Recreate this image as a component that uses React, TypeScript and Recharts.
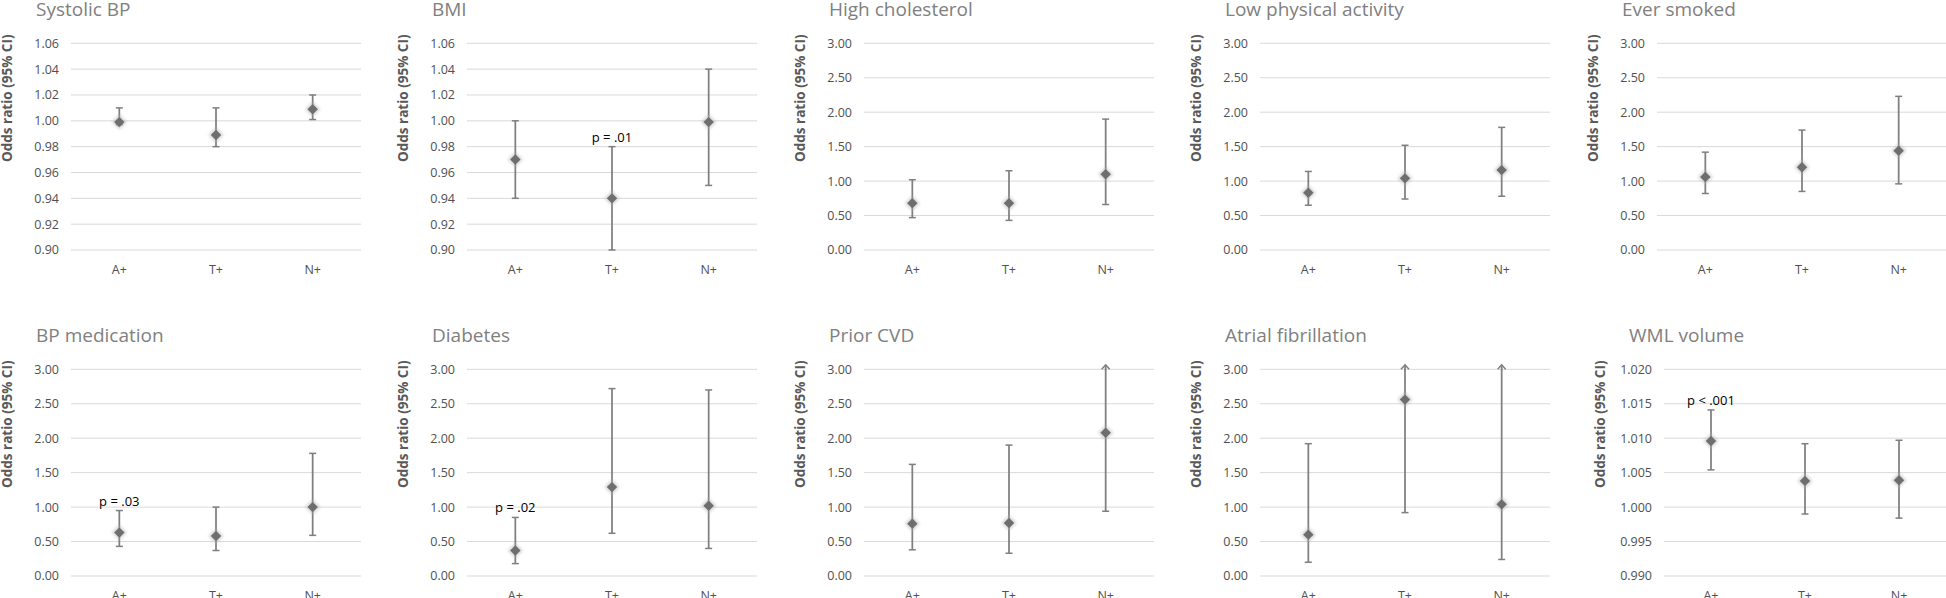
import React from 'react';
import { ComposedChart, Scatter, XAxis, YAxis, CartesianGrid, ErrorBar } from 'recharts';

// ---------- data ----------
const CATS = ['A+', 'T+', 'N+'];
const CAT_IDX = [0, 1, 2];

const TICKS_SMALL = [0.9, 0.92, 0.94, 0.96, 0.98, 1.0, 1.02, 1.04, 1.06];
const TICKS_OR = [0, 0.5, 1.0, 1.5, 2.0, 2.5, 3.0];
const TICKS_WML = [0.99, 0.995, 1.0, 1.005, 1.01, 1.015, 1.02];

const TITLES = [
  'Systolic BP', 'BMI', 'High cholesterol', 'Low physical activity', 'Ever smoked',
  'BP medication', 'Diabetes', 'Prior CVD', 'Atrial fibrillation', 'WML volume',
];

// odds ratios, lower and upper CI (null upper = beyond axis, drawn as arrow)
const SBP_OR = [0.999, 0.989, 1.009];
const SBP_LO = [0.997, 0.98, 1.001];
const SBP_HI = [1.01, 1.01, 1.02];
const SBP_P = [null, null, null];

const BMI_OR = [0.97, 0.94, 0.999];
const BMI_LO = [0.94, 0.9, 0.95];
const BMI_HI = [1.0, 0.98, 1.04];
const BMI_P = [null, 'p = .01', null];

const CHOL_OR = [0.68, 0.68, 1.1];
const CHOL_LO = [0.47, 0.43, 0.66];
const CHOL_HI = [1.02, 1.15, 1.9];
const CHOL_P = [null, null, null];

const LPA_OR = [0.83, 1.04, 1.16];
const LPA_LO = [0.65, 0.74, 0.78];
const LPA_HI = [1.14, 1.52, 1.78];
const LPA_P = [null, null, null];

const SMK_OR = [1.06, 1.2, 1.44];
const SMK_LO = [0.82, 0.85, 0.96];
const SMK_HI = [1.42, 1.74, 2.23];
const SMK_P = [null, null, null];

const BPM_OR = [0.63, 0.58, 1.0];
const BPM_LO = [0.43, 0.37, 0.59];
const BPM_HI = [0.95, 1.0, 1.78];
const BPM_P = ['p = .03', null, null];

const DIA_OR = [0.37, 1.29, 1.02];
const DIA_LO = [0.18, 0.62, 0.4];
const DIA_HI = [0.85, 2.72, 2.7];
const DIA_P = ['p = .02', null, null];

const CVD_OR = [0.76, 0.77, 2.08];
const CVD_LO = [0.38, 0.33, 0.94];
const CVD_HI = [1.62, 1.9, null];
const CVD_P = [null, null, null];

const AF_OR = [0.6, 2.56, 1.04];
const AF_LO = [0.2, 0.92, 0.24];
const AF_HI = [1.92, null, null];
const AF_P = [null, null, null];

const WML_OR = [1.0096, 1.0038, 1.0039];
const WML_LO = [1.0054, 0.999, 0.9984];
const WML_HI = [1.0141, 1.0092, 1.0097];
const WML_P = ['p < .001', null, null];

// ---------- styling / layout ----------
const GRAY = '#7f7f7f';
const AX = 80;
const CHART_H = 300;

const Marker = (props: any) => {
  const { cx, cy } = props;
  if (cx == null || cy == null) return <g />;
  const s = 5.2;
  const d = `M${cx},${cy - s} L${cx + s},${cy} L${cx},${cy + s} L${cx - s},${cy} Z`;
  const h = 7.5;
  const dh = `M${cx},${cy - h} L${cx + h},${cy} L${cx},${cy + h} L${cx - h},${cy} Z`;
  return (
    <g>
      <defs>
        <filter id="mglow" x="-1" y="-1" width="3" height="3">
          <feGaussianBlur stdDeviation="1.5" />
        </filter>
        <filter id="mcore" x="-1" y="-1" width="3" height="3">
          <feGaussianBlur stdDeviation="0.6" />
        </filter>
      </defs>
      <path d={dh} fill="#b0b0b0" opacity={0.55} filter="url(#mglow)" />
      <path d={d} fill="#6e6e6e" filter="url(#mcore)" />
    </g>
  );
};

const LowCap = (props: any) => {
  const { cx, cy } = props;
  if (cx == null || cy == null) return <g />;
  return <line x1={cx - 3.5} x2={cx + 3.5} y1={cy} y2={cy} stroke={GRAY} strokeWidth={1.5} />;
};

const HighCap = (props: any) => {
  const { cx, cy, payload } = props;
  if (cx == null || cy == null) return <g />;
  const top = payload.trunc ? cy - 4.5 : cy;
  return (
    <g>
      {payload.trunc ? (
        <g>
          <line x1={cx} x2={cx} y1={cy + 1} y2={top} stroke={GRAY} strokeWidth={1.75} />
          <polyline
            points={`${cx - 4},${top + 4.5} ${cx},${top} ${cx + 4},${top + 4.5}`}
            fill="none"
            stroke={GRAY}
            strokeWidth={1.5}
          />
        </g>
      ) : (
        <line x1={cx - 3.5} x2={cx + 3.5} y1={cy} y2={cy} stroke={GRAY} strokeWidth={1.5} />
      )}
      {payload.p ? (
        <text x={cx} y={top - 5} textAnchor="middle" fontSize={13} fill="#000">
          {payload.p}
        </text>
      ) : null}
    </g>
  );
};

type PanelProps = {
  title: string;
  or: number[];
  lo: number[];
  hi: (number | null)[];
  pv: (string | null)[];
  ticks: number[];
  decimals: number;
  plotLeft: number;
  rowTop: number;
  plotWidth: number;
};

const Panel = ({ title, or, lo, hi, pv, ticks, decimals, plotLeft, rowTop, plotWidth }: PanelProps) => {
  const yMin = ticks[0];
  const yMax = ticks[ticks.length - 1];
  const data = CATS.map((c, i) => {
    const h = hi[i] == null ? yMax : (hi[i] as number);
    return {
      x: CAT_IDX[i],
      cat: c,
      or: or[i],
      lo: lo[i],
      hi: h,
      trunc: hi[i] == null,
      err: [or[i] - lo[i], h - or[i]],
      p: pv[i],
    };
  });
  const width = AX + plotWidth + 4;
  return (
    <div style={{ position: 'absolute', left: plotLeft - AX, top: rowTop, width, height: CHART_H }}>
      <ComposedChart
        width={width}
        height={CHART_H}
        data={data}
        margin={{ top: 43.3, right: 4, bottom: 20, left: 0 }}
      >
        <CartesianGrid vertical={false} stroke="#d9d9d9" strokeWidth={1} />
        <XAxis
          dataKey="x"
          type="number"
          domain={[-0.5, 2.5]}
          ticks={CAT_IDX}
          interval={0}
          axisLine={false}
          tickLine={false}
          height={30}
          tickMargin={9}
          tick={{ fill: '#505050', fontSize: 12.5 }}
          tickFormatter={(v: number) => CATS[v]}
        />
        <YAxis
          type="number"
          domain={[yMin, yMax]}
          ticks={ticks}
          interval={0}
          width={AX}
          axisLine={false}
          tickLine={false}
          tickMargin={6}
          tick={{ fill: '#505050', fontSize: 12.5 }}
          tickFormatter={(v: number) => v.toFixed(decimals)}
        />
        <Scatter dataKey="lo" shape={LowCap} isAnimationActive={false} />
        <Scatter dataKey="hi" shape={HighCap} isAnimationActive={false} />
        <Scatter dataKey="or" shape={Marker} isAnimationActive={false}>
          <ErrorBar dataKey="err" direction="y" width={0} stroke={GRAY} strokeWidth={1.75} isAnimationActive={false} />
        </Scatter>
        <text x={AX - 35} y={16} fontSize={19} fill="#808080">
          {title}
        </text>
        <text
          x={AX - 64}
          y={98.3}
          transform={`rotate(-90 ${AX - 64} 98.3)`}
          textAnchor="middle"
          dominantBaseline="central"
          fontSize={13.5}
          fontWeight="bold"
          fill="#595959"
        >
          Odds ratio (95% CI)
        </text>
      </ComposedChart>
    </div>
  );
};

export default function App() {
  const top = 0;
  const bot = 326;
  return (
    <div
      style={{
        position: 'absolute',
        left: 0,
        top: 0,
        width: 1946,
        height: 598,
        overflow: 'hidden',
        background: '#fff',
        fontFamily: "'Open Sans', 'Noto Sans', sans-serif",
      }}
    >
      <Panel title={TITLES[0]} or={SBP_OR} lo={SBP_LO} hi={SBP_HI} pv={SBP_P} ticks={TICKS_SMALL} decimals={2} plotLeft={71} rowTop={top} plotWidth={290} />
      <Panel title={TITLES[1]} or={BMI_OR} lo={BMI_LO} hi={BMI_HI} pv={BMI_P} ticks={TICKS_SMALL} decimals={2} plotLeft={467} rowTop={top} plotWidth={290} />
      <Panel title={TITLES[2]} or={CHOL_OR} lo={CHOL_LO} hi={CHOL_HI} pv={CHOL_P} ticks={TICKS_OR} decimals={2} plotLeft={864} rowTop={top} plotWidth={290} />
      <Panel title={TITLES[3]} or={LPA_OR} lo={LPA_LO} hi={LPA_HI} pv={LPA_P} ticks={TICKS_OR} decimals={2} plotLeft={1260} rowTop={top} plotWidth={290} />
      <Panel title={TITLES[4]} or={SMK_OR} lo={SMK_LO} hi={SMK_HI} pv={SMK_P} ticks={TICKS_OR} decimals={2} plotLeft={1657} rowTop={top} plotWidth={290} />
      <Panel title={TITLES[5]} or={BPM_OR} lo={BPM_LO} hi={BPM_HI} pv={BPM_P} ticks={TICKS_OR} decimals={2} plotLeft={71} rowTop={bot} plotWidth={290} />
      <Panel title={TITLES[6]} or={DIA_OR} lo={DIA_LO} hi={DIA_HI} pv={DIA_P} ticks={TICKS_OR} decimals={2} plotLeft={467} rowTop={bot} plotWidth={290} />
      <Panel title={TITLES[7]} or={CVD_OR} lo={CVD_LO} hi={CVD_HI} pv={CVD_P} ticks={TICKS_OR} decimals={2} plotLeft={864} rowTop={bot} plotWidth={290} />
      <Panel title={TITLES[8]} or={AF_OR} lo={AF_LO} hi={AF_HI} pv={AF_P} ticks={TICKS_OR} decimals={2} plotLeft={1260} rowTop={bot} plotWidth={290} />
      <Panel title={TITLES[9]} or={WML_OR} lo={WML_LO} hi={WML_HI} pv={WML_P} ticks={TICKS_WML} decimals={3} plotLeft={1664} rowTop={bot} plotWidth={282} />
    </div>
  );
}
